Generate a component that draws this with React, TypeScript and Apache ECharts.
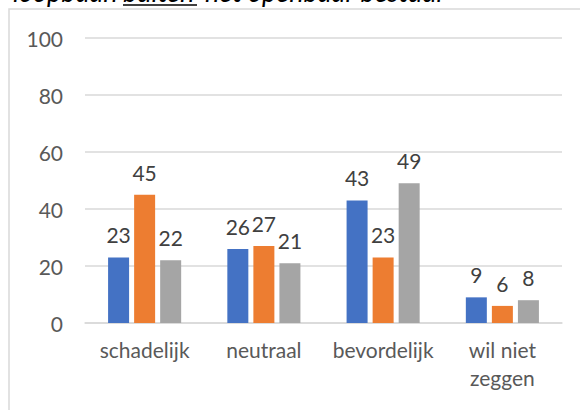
import React, { useEffect, useRef } from "react";
import * as echarts from "echarts";

const categories = ["schadelijk", "neutraal", "bevordelijk", "wil niet\nzeggen"];
const seriesA = [23, 26, 43, 9];
const seriesB = [45, 27, 23, 6];
const seriesC = [22, 21, 49, 8];
const seriesNames = ["Reeks 1", "Reeks 2", "Reeks 3"];
const colors = ["#4472C4", "#ED7D31", "#A5A5A5"];
const titleParts = ["loopbaan", "buiten", "het openbaar bestuur"];

const FONT = "Lato, 'Open Sans', sans-serif";

export default function App() {
  const ref = useRef<HTMLDivElement>(null);
  useEffect(() => {
    if (!ref.current) return;
    const chart = echarts.init(ref.current, null, { renderer: "svg" });
    const data = [seriesA, seriesB, seriesC];
    const titleStyle = {
      fontSize: 27,
      fontStyle: "italic",
      fontFamily: FONT,
      fill: "#000",
      verticalAlign: "middle",
    };
    chart.setOption({
      animation: false,
      textStyle: { fontFamily: FONT },
      grid: { left: 85, right: 18, top: 38, bottom: 87, containLabel: false },
      xAxis: {
        type: "category",
        data: categories,
        axisLine: { show: true, lineStyle: { color: "#D9D9D9", width: 1.5 } },
        axisTick: { show: false },
        axisLabel: {
          color: "#595959",
          fontSize: 21,
          fontFamily: FONT,
          margin: 12,
          lineHeight: 28,
          interval: 0,
        },
      },
      yAxis: {
        type: "value",
        min: 0,
        max: 100,
        interval: 20,
        axisLine: { show: false },
        axisTick: { show: false },
        splitLine: { lineStyle: { color: "#D9D9D9", width: 1.5 } },
        axisLabel: { color: "#595959", fontSize: 21, fontFamily: FONT, margin: 22 },
      },
      series: data.map((d, i) => ({
        type: "bar",
        name: seriesNames[i],
        data: d,
        barWidth: 21,
        barGap: "24%",
        itemStyle: { color: colors[i] },
        label: {
          show: true,
          position: "top",
          distance: 12,
          color: "#404040",
          fontSize: 21,
          fontFamily: FONT,
        },
      })),
      graphic: [
        {
          type: "rect",
          shape: { x: 9, y: 9, width: 620, height: 500 },
          style: { fill: "none", stroke: "#D9D9D9", lineWidth: 1.5 },
          silent: true,
        },
        { type: "text", x: 13, y: -9, style: { ...titleStyle, text: titleParts[0] } },
        { type: "text", x: 123, y: -9, style: { ...titleStyle, text: titleParts[1] } },
        { type: "text", x: 205, y: -9, style: { ...titleStyle, text: titleParts[2] } },
        {
          type: "line",
          shape: { x1: 123, y1: 5, x2: 197, y2: 5 },
          style: { stroke: "#000", lineWidth: 1.5 },
        },
      ],
    });
    return () => chart.dispose();
  }, []);
  return (
    <div
      ref={ref}
      style={{ position: "fixed", left: 0, top: 0, width: 580, height: 410, background: "#fff" }}
    />
  );
}
